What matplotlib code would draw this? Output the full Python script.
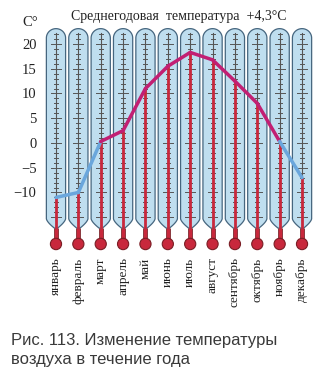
import numpy as np
import matplotlib.pyplot as plt
from matplotlib.patches import Polygon, Ellipse

months = ["январь", "февраль", "март", "апрель", "май", "июнь",
          "июль", "август", "сентябрь", "октябрь", "ноябрь", "декабрь"]
temps = [-11, -10, 0.3, 2.5, 11, 15.5, 18.3, 16.8, 12.5, 8, 0.3, -7]
yticks = [20, 15, 10, 5, 0, -5, -10]
title = "Среднегодовая  температура  +4,3°С"
caption = ["Рис. 113. Изменение температуры", "воздуха в течение года"]

serif = "Liberation Serif"
sans = "Liberation Sans"

fig = plt.figure(figsize=(3.28, 3.75), dpi=100)
ax = fig.add_axes([0.1366, 0.3283, 0.8183, 0.6204])
ax.set_xlim(-0.5, 11.5)
ax.set_ylim(-22, 25)

# thermometer geometry (data units)
hw = 0.43          # tube half width
top = 21.2         # where the round top starts
ry = 1.9           # vertical radius of round top
bottom = -15.3     # where the tube narrows
neck = -17.2
stem_w = 0.07
bulb_y = -20.4

tube_fc = "#bfdeef"
tube_ec = "#46667f"
merc = "#c8283c"

for i, t in enumerate(temps):
    x = i
    ang = np.linspace(0, np.pi, 40)
    arc = np.column_stack([x + hw * np.cos(ang), top + ry * np.sin(ang)])
    s = np.linspace(0, 1, 15)
    # funnel from tube side to stem
    lx = x - hw + (hw - stem_w) * s**1.5
    ly = bottom + (neck - bottom) * s
    left = np.column_stack([lx, ly])
    right = np.column_stack([2 * x - lx[::-1], ly[::-1]])
    pts = np.vstack([arc, [[x - hw, top]], left, right, [[x + hw, top]]])
    ax.add_patch(Polygon(pts, closed=True, fc=tube_fc, ec=tube_ec, lw=0.9, zorder=1))

    # scale inside tube
    ax.plot([x, x], [-15.5, 22.3], color="#555555", lw=0.8, zorder=2)
    for d in range(-15, 23):
        L = 0.22 if d % 5 == 0 else 0.09
        ax.plot([x - L, x + L], [d, d], color="#555555", lw=0.7, zorder=2)

    # stem and mercury column
    ax.plot([x, x], [bulb_y, neck], color="#7a1d24", lw=3.4, zorder=3,
            solid_capstyle="butt")
    ax.plot([x, x], [bulb_y, neck], color=merc, lw=2.2, zorder=3,
            solid_capstyle="butt")
    ax.plot([x, x], [neck, t], color=merc, lw=2.0, zorder=3,
            solid_capstyle="butt")
    ax.add_patch(Ellipse((x, bulb_y), 0.5, 2.3, fc=merc, ec="#7a1d24",
                         lw=0.8, zorder=4))

# temperature curve: blue below zero, magenta above
for i in range(len(temps) - 1):
    mid = (temps[i] + temps[i + 1]) / 2
    c = "#c21f73" if mid > 0 else "#6aa6dc"
    ax.plot([i, i + 1], [temps[i], temps[i + 1]], color=c, lw=2.5,
            zorder=5, solid_capstyle="round")

ax.set_yticks(yticks)
ax.set_yticklabels([f"{v}".replace("-", "\u2212") for v in yticks],
                   fontfamily=serif, fontsize=10.5, color="#222222")
ax.set_xticks(range(len(months)))
ax.set_xticklabels(months, rotation=90, fontfamily=serif, fontsize=9.5,
                   color="#222222", va="top")
ax.tick_params(axis="y", length=0, pad=6)
ax.tick_params(axis="x", length=0, pad=4)
for sp in ax.spines.values():
    sp.set_visible(False)

fig.text(0.545, 0.957, title, ha="center", va="center",
         fontfamily=serif, fontsize=10, color="#222222")
fig.text(0.093, 0.94, "C°", ha="center", va="center",
         fontfamily=serif, fontsize=10.5, color="#222222")
fig.text(0.035, 0.093, caption[0], ha="left", va="center",
         fontfamily=sans, fontsize=12, color="#3a3a3a")
fig.text(0.035, 0.042, caption[1], ha="left", va="center",
         fontfamily=sans, fontsize=12, color="#3a3a3a")

fig.savefig("out.png", dpi=100)
